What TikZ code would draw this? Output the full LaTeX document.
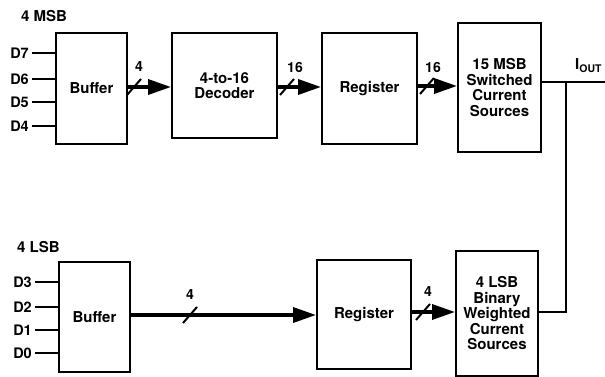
\documentclass[tikz,border=0pt]{standalone}
\usepackage{fontspec}
\setmainfont{TeX Gyre Heros}
\usetikzlibrary{arrows.meta}
\begin{document}
\begin{tikzpicture}[x=1pt,y=-1pt,
  font=\fontsize{15}{15.5}\selectfont\bfseries,
  blk/.style={draw,line width=2pt,minimum width=#1,inner sep=0pt,align=center},
  bus/.style={line width=3.5pt,-{Triangle[length=23pt,width=15pt]}},
  inln/.style={line width=2.5pt},
  outln/.style={line width=2pt},
  slashmark/.style={line width=2pt},
  lbl/.style={inner sep=0pt,font=\fontsize{14}{14}\selectfont\bfseries},
  inlbl/.style={inner sep=0pt,anchor=east,font=\fontsize{14.5}{15}\selectfont\bfseries}]
\useasboundingbox (0,0) rectangle (605,377);
% blocks
\node[blk=71pt,minimum height=111pt] (buf1) at (91.5,88.5) {Buffer};
\node[blk=105pt,minimum height=105pt] (dec) at (224.5,85.5) {4-to-16\\Decoder};
\node[blk=95pt,minimum height=111pt] (reg1) at (369.5,88.5) {Register};
\node[blk=83pt,minimum height=129pt] (msb) at (499.5,87.5) {15 MSB\\Switched\\Current\\Sources};
\node[blk=71pt,minimum height=110pt] (buf2) at (94.5,317) {Buffer};
\node[blk=94pt,minimum height=109pt] (reg2) at (364,314.5) {Register};
\node[blk=82pt,minimum height=125pt] (lsb) at (497,313.5) {4 LSB\\Binary\\Weighted\\Current\\Sources};
% group labels
\node[inner sep=0pt,anchor=west] (gmsb) at (21,16) {4 MSB};
\node[inner sep=0pt,anchor=west] (glsb) at (17,247) {4 LSB};
% inputs
\foreach \n/\y in {D7/53,D6/79,D5/102,D4/126}{
  \node[inlbl] (\n) at (29,\y) {\n};
  \draw[inln] (32,\y) -- (buf1.west |- 0,\y);
}
\foreach \n/\y in {D3/282,D2/307,D1/330,D0/353}{
  \node[inlbl] (\n) at (32,\y) {\n};
  \draw[inln] (35,\y) -- (buf2.west |- 0,\y);
}
% buses
\coordinate (t1) at (127,87);
\coordinate (t2) at (277,87);
\coordinate (t3) at (417,86);
\coordinate (b1) at (130,315);
\coordinate (b2) at (411,312);
\draw[bus] (t1) -- (dec.west |- t1);
\draw[bus] (t2) -- (reg1.west |- t2);
\draw[bus] (t3) -- (msb.west |- t3);
\draw[bus] (b1) -- (reg2.west |- b1);
\draw[bus] (b2) -- (lsb.west |- b2);
% slashes and widths
\foreach \x/\y in {134/87,287/87,427/86,190/315,423/312}{
  \draw[slashmark] (\x-7,\y+8) -- (\x+7,\y-8);
}
\node[lbl] (w1) at (139,67) {4};
\node[lbl] (w2) at (295,67) {16};
\node[lbl] (w3) at (433,67) {16};
\node[lbl] (w4) at (190,295) {4};
\node[lbl] (w5) at (428,292) {4};
% output
\coordinate (oj) at (566,82);
\coordinate (oe) at (605,82);
\coordinate (lj) at (566,312);
\draw[outln] (msb.east |- oj) -- (oe);
\draw[outln] (lsb.east |- lj) -- (lj) -- (oj);
\node[inner sep=0pt,anchor=west] (iout) at (575,66) {I\textsubscript{OUT}};
\end{tikzpicture}
\end{document}
